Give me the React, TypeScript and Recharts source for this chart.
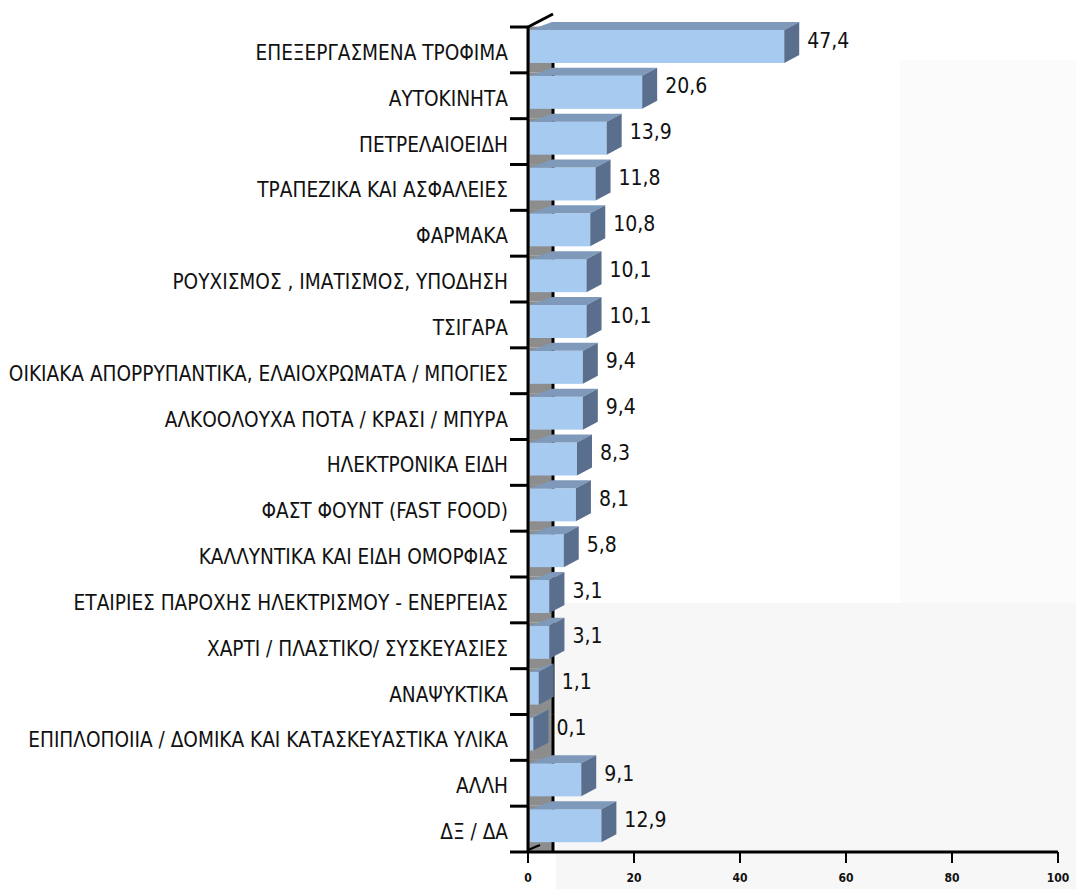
import { BarChart, Bar, XAxis, YAxis, LabelList } from 'recharts';

const CATEGORIES = [
  'ΕΠΕΞΕΡΓΑΣΜΕΝΑ ΤΡΟΦΙΜΑ',
  'ΑΥΤΟΚΙΝΗΤΑ',
  'ΠΕΤΡΕΛΑΙΟΕΙΔΗ',
  'ΤΡΑΠΕΖΙΚΑ ΚΑΙ ΑΣΦΑΛΕΙΕΣ',
  'ΦΑΡΜΑΚΑ',
  'ΡΟΥΧΙΣΜΟΣ , ΙΜΑΤΙΣΜΟΣ, ΥΠΟΔΗΣΗ',
  'ΤΣΙΓΑΡΑ',
  'ΟΙΚΙΑΚΑ ΑΠΟΡΡΥΠΑΝΤΙΚΑ, ΕΛΑΙΟΧΡΩΜΑΤΑ / ΜΠΟΓΙΕΣ',
  'ΑΛΚΟΟΛΟΥΧΑ ΠΟΤΑ / ΚΡΑΣΙ / ΜΠΥΡΑ',
  'ΗΛΕΚΤΡΟΝΙΚΑ ΕΙΔΗ',
  'ΦΑΣΤ ΦΟΥΝΤ (FAST FOOD)',
  'ΚΑΛΛΥΝΤΙΚΑ ΚΑΙ ΕΙΔΗ ΟΜΟΡΦΙΑΣ',
  'ΕΤΑΙΡΙΕΣ ΠΑΡΟΧΗΣ ΗΛΕΚΤΡΙΣΜΟΥ - ΕΝΕΡΓΕΙΑΣ',
  'ΧΑΡΤΙ / ΠΛΑΣΤΙΚΟ/ ΣΥΣΚΕΥΑΣΙΕΣ',
  'ΑΝΑΨΥΚΤΙΚΑ',
  'ΕΠΙΠΛΟΠΟΙΙΑ / ΔΟΜΙΚΑ ΚΑΙ ΚΑΤΑΣΚΕΥΑΣΤΙΚΑ ΥΛΙΚΑ',
  'ΑΛΛΗ',
  'ΔΞ / ΔΑ',
];

const VALUES = [47.4, 20.6, 13.9, 11.8, 10.8, 10.1, 10.1, 9.4, 9.4, 8.3, 8.1, 5.8, 3.1, 3.1, 1.1, 0.1, 9.1, 12.9];

const X_TICKS = [0, 20, 40, 60, 80, 100];

const data = CATEGORIES.map((name, i) => ({ name, value: VALUES[i] }));

const WIDTH = 1076;
const HEIGHT = 889;
const MARGIN = { top: 27, right: 18, bottom: 0, left: 0 };
const Y_AXIS_WIDTH = 528;
const X_AXIS_HEIGHT = 37;
const BAND = (HEIGHT - MARGIN.top - MARGIN.bottom - X_AXIS_HEIGHT) / CATEGORIES.length;

const FONT = "'DejaVu Sans Condensed', 'Liberation Sans Narrow', sans-serif";

const FRONT = '#a6caf0';
const TOP = '#7f99ba';
const SIDE = '#5a6f8e';
const WALL = '#8d8d8d';
const DX = 15;
const DY = 8;
const WALL_DEPTH = 24;

// grey floor strip and back edge behind each bar
function Wall(props: any) {
  const { x, y, height } = props;
  const bandTop = y + height / 2 - BAND / 2;
  return (
    <g>
      <rect x={x} y={bandTop} width={WALL_DEPTH} height={BAND} fill={WALL} />
      <line x1={x + WALL_DEPTH + 1} x2={x + WALL_DEPTH + 1} y1={bandTop} y2={bandTop + BAND} stroke="#000" strokeWidth={3} />
    </g>
  );
}

// fake 3D box: front face, top face and right side
function Box3D(props: any) {
  const { x, y, width, height } = props;
  const x0 = x + 2;
  const x1 = Math.max(x + width + 5, x0 + 1);
  const top = y - 3;
  const bot = top + height;
  return (
    <g>
      <rect x={x0} y={top} width={x1 - x0} height={height} fill={FRONT} />
      <polygon
        points={`${x0},${top} ${x1},${top} ${x1 + DX},${top - DY} ${Math.min(x0 + 22, x1 + DX)},${top - DY}`}
        fill={TOP}
      />
      <polygon
        points={`${x1},${top} ${x1 + DX},${top - DY} ${x1 + DX},${bot - DY} ${x1},${bot}`}
        fill={SIDE}
      />
    </g>
  );
}

function ValueLabel(props: any) {
  const { x, y, width, height, value } = props;
  const lx = x + width + 5 + DX + 8;
  return (
    <text
      x={lx}
      y={y - 3 + height / 2 - 5}
      fontFamily={FONT}
      fontSize={21}
      fill="#111"
      dominantBaseline="middle"
    >
      {String(value).replace('.', ',')}
    </text>
  );
}

function CategoryTick(props: any) {
  const { x, y, payload, index } = props;
  const axisX = x + 20;
  return (
    <g>
      <text x={x} y={y + 4} textAnchor="end" dominantBaseline="middle" fontFamily={FONT} fontSize={20.6} fill="#111">
        {payload.value}
      </text>
      <line x1={axisX - 18} x2={axisX} y1={y - BAND / 2} y2={y - BAND / 2} stroke="#000" strokeWidth={3} />
      {index === CATEGORIES.length - 1 && (
        <g>
          <line x1={axisX - 18} x2={axisX} y1={y + BAND / 2} y2={y + BAND / 2} stroke="#000" strokeWidth={3} />
          <line x1={axisX} x2={axisX + 12} y1={y + BAND / 2 - 2} y2={y + BAND / 2 - 7} stroke="#000" strokeWidth={2} />
        </g>
      )}
      {index === 0 && (
        <polyline
          points={`${axisX},${y - BAND / 2} ${axisX + 25},${y - BAND / 2 - 13}`}
          fill="none"
          stroke="#000"
          strokeWidth={3}
        />
      )}
    </g>
  );
}

export default function App() {
  return (
    <div style={{ position: 'absolute', left: 0, top: 0, width: WIDTH, height: HEIGHT, background: '#fff' }}>
      <div style={{ position: 'absolute', left: 556, top: 603, width: WIDTH - 556, height: HEIGHT - 603, background: '#f7f7f7' }} />
      <div style={{ position: 'absolute', left: 900, top: 60, width: WIDTH - 900, height: 543, background: '#fbfbfb' }} />
      <div style={{ position: 'absolute', left: 0, top: 0 }}>
        <BarChart width={WIDTH} height={HEIGHT} data={data} layout="vertical" margin={MARGIN}>
          <XAxis
            type="number"
            domain={[0, 100]}
            ticks={X_TICKS}
            interval={0}
            height={X_AXIS_HEIGHT}
            axisLine={{ stroke: '#000', strokeWidth: 3 }}
            tickLine={{ stroke: '#000', strokeWidth: 2 }}
            tickSize={11}
            tickMargin={10}
            tick={{ fill: '#111', fontSize: 12, fontFamily: FONT, fontWeight: 'bold' }}
          />
          <YAxis
            type="category"
            dataKey="name"
            width={Y_AXIS_WIDTH}
            axisLine={{ stroke: '#000', strokeWidth: 3 }}
            tickLine={false}
            tickSize={0}
            tickMargin={20}
            interval={0}
            tick={<CategoryTick />}
          />
          <Bar
            dataKey="value"
            barSize={33}
            shape={<Box3D />}
            background={<Wall />}
            isAnimationActive={false}
          >
            <LabelList dataKey="value" content={<ValueLabel />} />
          </Bar>
        </BarChart>
      </div>
    </div>
  );
}
